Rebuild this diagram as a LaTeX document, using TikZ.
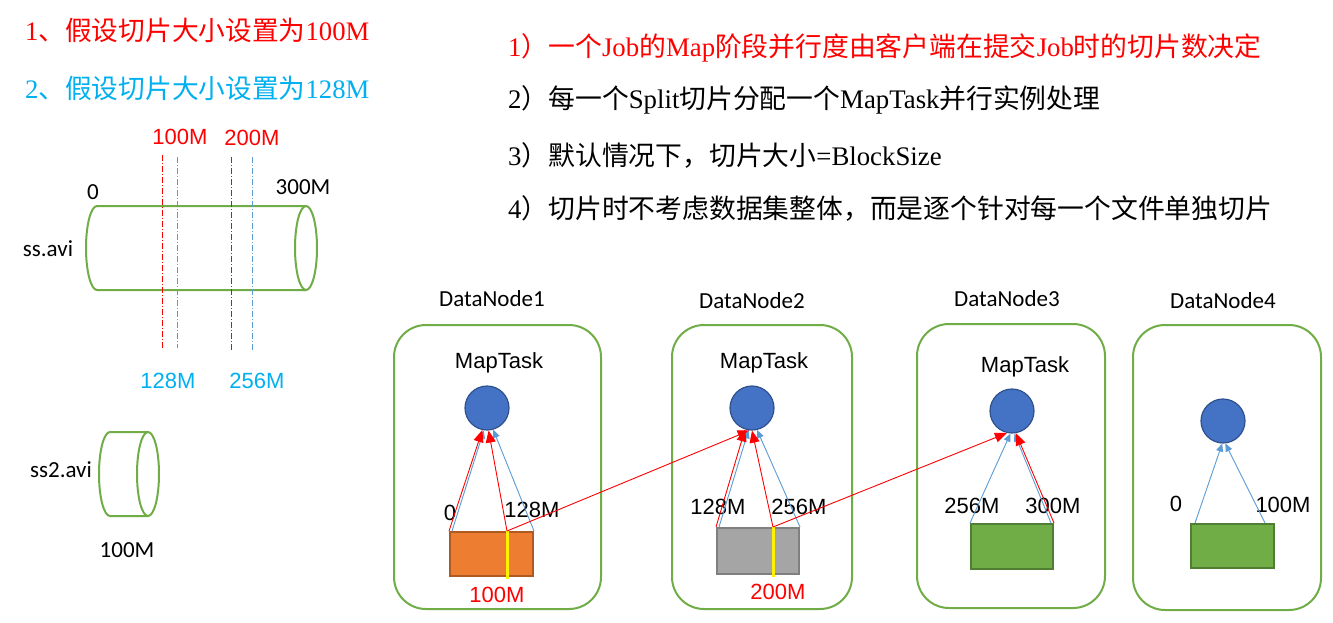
\documentclass[tikz,border=0pt]{standalone}
\usepackage{fontspec}
\setmainfont{Liberation Serif}
\newfontfamily\cjk{Noto Sans CJK SC}
\newfontfamily\arialf{Liberation Sans}
\newfontfamily\calf{Carlito}
\usetikzlibrary{arrows.meta}
\definecolor{grn}{HTML}{70AD47}
\definecolor{grnD}{HTML}{507E32}
\definecolor{mtblue}{HTML}{4472C4}
\definecolor{mtedge}{HTML}{2F528F}
\definecolor{lblue}{HTML}{5B9BD5}
\definecolor{cyanT}{HTML}{00B0F0}
\definecolor{orng}{HTML}{ED7D31}
\definecolor{orngD}{HTML}{AE5A21}
\definecolor{gry}{HTML}{A5A5A5}
\definecolor{gryD}{HTML}{7F7F7F}
\tikzset{
 dn/.style={draw=grn, line width=2pt, rounded corners=32pt, inner sep=0pt},
 mt/.style={circle, fill=mtblue, draw=mtedge, line width=1.2pt, minimum size=44pt, inner sep=0pt},
 blk/.style={minimum width=83pt, minimum height=44pt, inner sep=0pt, line width=2pt},
 ra/.style={draw=red, line width=0.9pt, -{Triangle[length=12pt,width=10pt]}},
 ba/.style={draw=lblue, line width=0.9pt, -{Triangle[length=8pt,width=7pt]}},
 yl/.style={draw=yellow, line width=3pt},
 lbl/.style={font=\arialf\fontsize{22pt}{26pt}\selectfont, inner sep=0pt},
 cal/.style={font=\calf\fontsize{23pt}{27pt}\selectfont, inner sep=0pt},
 lft/.style={font=\fontsize{26.7pt}{30pt}\selectfont, inner sep=0pt, anchor=west},
 rgt/.style={font=\fontsize{26.8pt}{30pt}\selectfont, inner sep=0pt, anchor=west},
 cyl/.style={draw=grn, line width=2pt},
 ddr/.style={draw=red, line width=0.8pt, dash pattern=on 6pt off 2pt on 1pt off 2pt},
 ddb/.style={draw=lblue, line width=0.8pt, dash pattern=on 6pt off 2pt on 1pt off 2pt},
}
\begin{document}
\begin{tikzpicture}[x=1pt,y=-1pt]
\useasboundingbox[fill=white] (0,0) rectangle (1333,622);

% top-left notes
\node[lft, text=red] (n1) at (25,30) {1{\cjk 、假设切片大小设置为}100M};
\node[lft, text=cyanT] (n2) at (25,88) {2{\cjk 、假设切片大小设置为}128M};

% right list
\node[rgt, text=red] (t1) at (508,48) {1{\cjk ）一个}Job{\cjk 的}Map{\cjk 阶段并行度由客户端在提交}Job{\cjk 时的切片数决定}};
\node[rgt] (t2) at (508,100) {2{\cjk ）每一个}Split{\cjk 切片分配一个}MapTask{\cjk 并行实例处理}};
\node[rgt] (t3) at (508,155) {3{\cjk ）默认情况下，切片大小}=BlockSize};
\node[rgt] (t4) at (508,208) {4{\cjk ）切片时不考虑数据集整体，而是逐个针对每一个文件单独切片}};

% cylinder ss.avi
\draw[cyl] (306,206) -- (97,206) arc[start angle=90,end angle=270,x radius=11pt,y radius=42pt] -- (306,290);
\draw[cyl] (306,248) ellipse[x radius=11pt,y radius=42pt];
\node[cal] (z0) at (93,192) {0};
\node[cal] (z300) at (303,187) {300M};
\node[cal] (ss) at (48,249) {ss.avi};

% split lines
\coordinate (a1) at (162,155); \coordinate (a2) at (162,348);
\coordinate (b1) at (177,157); \coordinate (b2) at (177,348);
\coordinate (c1t) at (231,157); \coordinate (c1b) at (231,350);
\coordinate (d1t) at (252,157); \coordinate (d1b) at (252,350);
\draw[ddr] (a1) -- (a2);
\draw[ddb] (b1) -- (b2);
\draw[ddr] (c1t) -- (c1b);
\draw[ddb] (d1t) -- (d1b);
\node[lbl, text=red] (l100) at (180,137) {100M};
\node[lbl, text=red] (l200) at (252,138) {200M};
\node[lbl, text=cyanT] (l128) at (168,381) {128M};
\node[lbl, text=cyanT] (l256) at (257,381) {256M};

% cylinder ss2.avi
\draw[cyl] (148,432) -- (110,432) arc[start angle=90,end angle=270,x radius=11pt,y radius=42pt] -- (148,516);
\draw[cyl] (148,474) ellipse[x radius=11pt,y radius=42pt];
\node[cal] (ss2) at (61,470) {ss2.avi};
\node[cal] (s2m) at (127,550) {100M};

% DataNode boxes
\node[dn, minimum width=207pt, minimum height=284pt] (d1) at (497.5,467) {};
\node[dn, minimum width=180pt, minimum height=284pt] (d2) at (762,467) {};
\node[dn, minimum width=188pt, minimum height=284pt] (d3) at (1011,466) {};
\node[dn, minimum width=188pt, minimum height=285pt] (d4) at (1227,467.5) {};
\node[cal] (h1) at (492,299) {DataNode1};
\node[cal] (h2) at (752,301) {DataNode2};
\node[cal] (h3) at (1007,299) {DataNode3};
\node[cal] (h4) at (1223,301) {DataNode4};

\node[lbl] (m1) at (499,363) {MapTask};
\node[lbl] (m2) at (764,363) {MapTask};
\node[lbl] (m3) at (1025,367) {MapTask};

% map task circles
\node[mt] (c1) at (487,408) {};
\node[mt] (c2) at (752,408) {};
\node[mt] (c3) at (1012,411) {};
\node[mt] (c4) at (1223,421) {};

% blocks
\node[blk, fill=orng, draw=orngD] (r1) at (491.5,554) {};
\node[blk, fill=gry, draw=gryD, minimum width=82pt, minimum height=46pt] (r2) at (758,551) {};
\node[blk, fill=grn, draw=grnD, minimum width=82pt, minimum height=45pt] (r3) at (1012,546.5) {};
\node[blk, fill=grn, draw=grnD] (r4) at (1232.5,546) {};

\coordinate (s1) at (507,531);
\coordinate (s1b) at (507,579);
\coordinate (s2) at (773,527);
\coordinate (s2b) at (773,577);
\draw[yl] (s1) -- (s1b);
\draw[yl] (s2) -- (s2b);

% labels
\node[lbl] (k0) at (450,513) {0};
\node[lbl] (k128) at (532,510) {128M};
\node[lbl, text=red] (k100) at (497,595) {100M};
\node[lbl] (q128) at (718,507) {128M};
\node[lbl] (q256) at (799,507) {256M};
\node[lbl, text=red] (q200) at (778,592) {200M};
\node[lbl] (p256) at (972,506) {256M};
\node[lbl] (p300) at (1053,506) {300M};
\node[lbl] (w0) at (1176,504) {0};
\node[lbl] (w100) at (1283,505) {100M};

% arrows DataNode1
\draw[ba] ([xshift=3pt]r1.north west) -- (c1.262);
\draw[ba] (r1.north east) -- (c1.286);
\draw[ra] (r1.north west) -- (c1.258);
\draw[ra] (s1) -- (c1.274);
\draw[ra] (s1) -- (c2.264);
% arrows DataNode2
\draw[ba] ([xshift=3pt]r2.north west) -- (c2.261);
\draw[ba] (r2.north east) -- (c2.283);
\draw[ra] (r2.north west) -- (c2.252);
\draw[ra] (s2) -- (c2.270);
\draw[ra] (s2) -- (c3.257);
% arrows DataNode3
\draw[ba] (r3.north west) -- (c3.266);
\draw[ba] ([xshift=-3pt]r3.north east) -- (c3.276);
\draw[ra] (r3.north east) -- (c3.280);
% arrows DataNode4
\draw[ba] ([xshift=5pt]r4.north west) -- (c4.268);
\draw[ba] ([xshift=-10pt]r4.north east) -- (c4.276);
\end{tikzpicture}
\end{document}
